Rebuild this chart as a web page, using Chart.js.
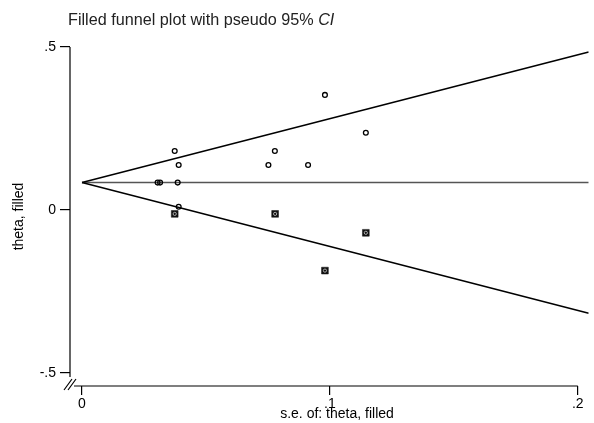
<!DOCTYPE html>
<html>
<head>
<meta charset="utf-8">
<script src="https://cdn.jsdelivr.net/npm/chart.js@4.4.1/dist/chart.umd.min.js"></script>
<style>
    body { margin: 0; background: #fff; }
    #wrap { position: relative; width: 594px; height: 423px; }
    #title {
        position: absolute; left: 68px; top: 10px;
        font-family: "Liberation Sans", Arial, sans-serif;
        font-size: 16.2px; color: #222; white-space: nowrap;
    }
    #xTitle {
        position: absolute; left: 237px; top: 405px; width: 200px;
        text-align: center; line-height: 16px;
        font-family: "Liberation Sans", Arial, sans-serif;
        font-size: 14px; color: #000; white-space: nowrap;
    }
</style>
</head>
<body>
<div id="wrap">
    <canvas id="funnelChart" width="594" height="423"></canvas>
    <div id="title">Filled funnel plot with pseudo 95% <i>CI</i></div>
    <div id="xTitle">s.e. of: theta, filled</div>
</div>
<script>
// observed studies (se, theta)
var observedSe    = [0.0305, 0.0315, 0.0374, 0.0390, 0.0386, 0.0390, 0.0752, 0.0778, 0.0912, 0.0980, 0.1145];
var observedTheta = [0.084, 0.084, 0.181, 0.138, 0.084, 0.010, 0.138, 0.181, 0.138, 0.353, 0.237];

// filled (imputed) studies
var filledSe    = [0.0374, 0.0779, 0.0980, 0.1145];
var filledTheta = [-0.012, -0.012, -0.186, -0.070];

// pooled estimate and pseudo 95% limits
var pooledTheta = 0.084;
var lineSe = [0, 0.2044];

var xTicks = [0, 0.1, 0.2];
var yTicks = [-0.5, 0, 0.5];

var fontFamily = '"Liberation Sans", Arial, sans-serif';

function toPoints(xs, ys) {
    return xs.map(function (v, i) { return { x: v, y: ys[i] }; });
}

var upperLine = lineSe.map(function (s) { return { x: s, y: pooledTheta + 1.96 * s }; });
var lowerLine = lineSe.map(function (s) { return { x: s, y: pooledTheta - 1.96 * s }; });
var pooledLine = lineSe.map(function (s) { return { x: s, y: pooledTheta }; });

function tickText(v) {
    if (v === 0) return '0';
    return String(v).replace('0.', '.');
}

// stata style axis lines with the break marks in the corner
var stataAxes = {
    id: 'stataAxes',
    afterDraw: function (chart) {
        var ctx = chart.ctx;
        var x = chart.scales.x, y = chart.scales.y;
        var left = chart.chartArea.left, bottom = chart.chartArea.bottom;
        var x0 = x.getPixelForValue(0);
        ctx.save();
        ctx.strokeStyle = '#000';
        ctx.lineWidth = 1.2;
        ctx.beginPath();
        ctx.moveTo(left, y.getPixelForValue(0.5));
        ctx.lineTo(left, y.getPixelForValue(-0.5) + 4);
        ctx.moveTo(x0 - 8, bottom);
        ctx.lineTo(x.getPixelForValue(0.2), bottom);
        // break marks
        ctx.moveTo(left - 6, bottom + 4);
        ctx.lineTo(left + 2, bottom - 7);
        ctx.moveTo(left - 2, bottom + 4);
        ctx.lineTo(left + 6, bottom - 7);
        ctx.stroke();
        ctx.restore();
    }
};

new Chart(document.getElementById('funnelChart'), {
    type: 'scatter',
    data: {
        datasets: [
            {
                label: 'upper',
                data: upperLine,
                showLine: true,
                borderColor: '#000',
                borderWidth: 1.5,
                pointRadius: 0,
                order: 3
            },
            {
                label: 'lower',
                data: lowerLine,
                showLine: true,
                borderColor: '#000',
                borderWidth: 1.5,
                pointRadius: 0,
                order: 3
            },
            {
                label: 'pooled',
                data: pooledLine,
                showLine: true,
                borderColor: '#555',
                borderWidth: 1.5,
                pointRadius: 0,
                order: 3
            },
            {
                label: 'filled',
                data: toPoints(filledSe, filledTheta),
                pointStyle: 'rect',
                pointRadius: 4.8,
                backgroundColor: '#111',
                borderColor: '#111',
                borderWidth: 0.5,
                order: 2
            },
            {
                label: 'filled marks',
                data: toPoints(filledSe, filledTheta),
                pointStyle: 'circle',
                pointRadius: 1.6,
                backgroundColor: 'transparent',
                borderColor: '#ccc',
                borderWidth: 0.8,
                order: 1
            },
            {
                label: 'observed',
                data: toPoints(observedSe, observedTheta),
                pointStyle: 'circle',
                pointRadius: 2.4,
                backgroundColor: 'transparent',
                borderColor: '#000',
                borderWidth: 1.3,
                order: 0
            }
        ]
    },
    options: {
        responsive: false,
        animation: false,
        devicePixelRatio: 1,
        layout: { padding: { left: 0, right: 2, top: 47, bottom: 0 } },
        plugins: {
            legend: { display: false },
            tooltip: { enabled: false }
        },
        scales: {
            x: {
                type: 'linear',
                min: -0.00484,
                max: 0.2044,
                afterFit: function (scale) { scale.height = 37; },
                afterBuildTicks: function (scale) {
                    scale.ticks = xTicks.map(function (v) { return { value: v }; });
                },
                grid: { display: true, drawOnChartArea: false, drawTicks: true, tickLength: 9, color: '#000', lineWidth: 1.2 },
                border: { display: false },
                ticks: {
                    padding: 1,
                    maxRotation: 0,
                    color: '#000',
                    font: { family: fontFamily, size: 14 },
                    callback: function (v) { return tickText(v); }
                },
                title: { display: false }
            },
            y: {
                type: 'linear',
                min: -0.54,
                max: 0.5,
                afterFit: function (scale) { scale.width = 70; },
                afterBuildTicks: function (scale) {
                    scale.ticks = yTicks.map(function (v) { return { value: v }; });
                },
                grid: { display: true, drawOnChartArea: false, drawTicks: true, tickLength: 10, color: '#000', lineWidth: 1.2 },
                border: { display: false },
                ticks: {
                    padding: 4,
                    color: '#000',
                    font: { family: fontFamily, size: 14 },
                    callback: function (v) { return tickText(v); }
                },
                title: {
                    display: true,
                    text: 'theta, filled',
                    color: '#000',
                    padding: { top: 11, bottom: 0 },
                    font: { family: fontFamily, size: 14 }
                }
            }
        }
    },
    plugins: [stataAxes]
});
</script>
</body>
</html>
